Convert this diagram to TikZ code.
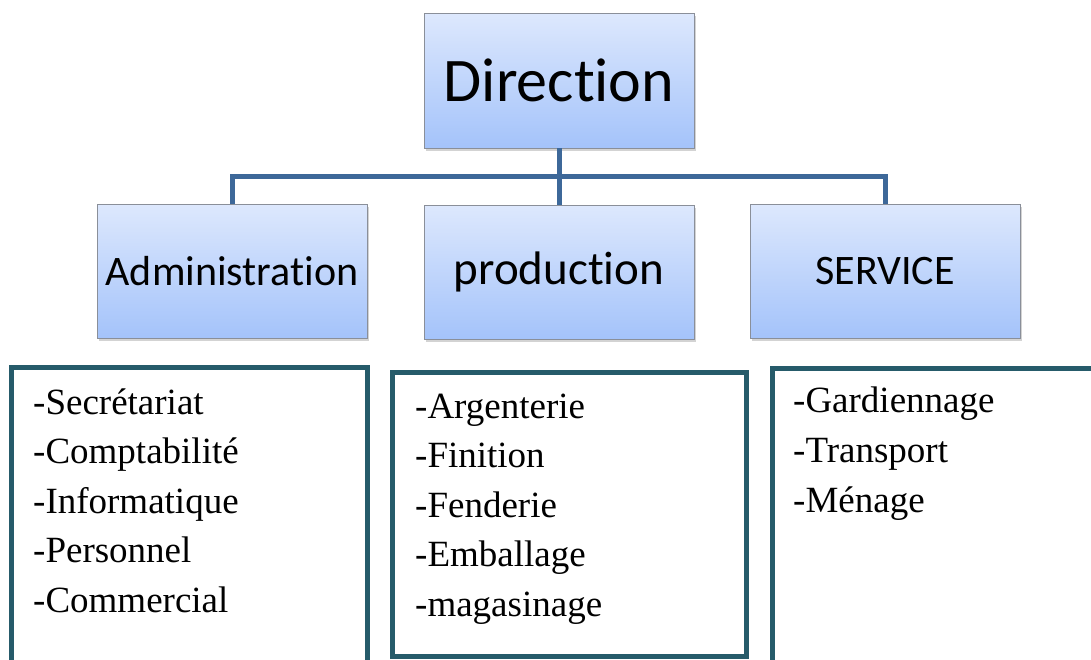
\documentclass[tikz,border=0pt]{standalone}
\usepackage{fontspec}
\setmainfont{Liberation Serif}
\newfontfamily\boxfont[Ligatures=NoCommon]{Carlito}
\usepackage{xcolor}
\usepackage{tikz}
\usetikzlibrary{shadows,calc}
\definecolor{boxtop}{HTML}{DDE8FD}
\definecolor{boxbottom}{HTML}{A4C3FA}
\definecolor{boxedge}{HTML}{8A8F99}
\definecolor{linkblue}{HTML}{3D6899}
\definecolor{listedge}{HTML}{265B6A}
\tikzset{
  unitbox/.style={rectangle,draw=boxedge,line width=0.8pt,top color=boxtop,
    bottom color=boxbottom,minimum width=270pt,minimum height=134pt,
    inner sep=0pt,drop shadow={shadow xshift=1.5pt,shadow yshift=-3pt,opacity=0.35}},
  linkline/.style={draw=linkblue,line width=5pt,line join=miter},
  listbox/.style={rectangle,draw=listedge,line width=5pt,anchor=north west,
    inner sep=0pt,outer sep=0pt},
  itemtext/.style={anchor=base west,inner sep=0pt,font=\fontsize{37}{42}\selectfont}
}

\begin{document}
\begin{tikzpicture}[x=1pt,y=-1pt]
  \useasboundingbox (0,0) rectangle (1091,659);
  \clip (0,0) rectangle (1091,659);
  % top level
  \node[unitbox,minimum height=135pt,font=\boxfont\fontsize{62}{70}\selectfont]
    (dir) at (559,80.5) {Direction};
  % departments
  \node[unitbox,font=\boxfont\fontsize{42}{48}\selectfont] (adm) at (232,271) {Administration};
  \node[unitbox,font=\boxfont\fontsize{47}{52}\selectfont] (prod) at (559,272) {production};
  \node[unitbox,font=\boxfont\fontsize{42}{48}\selectfont] (srv) at (885,271) {SERVICE};
  % links
  \coordinate (bus) at (559,176);
  \draw[linkline] (dir.south) -- (bus);
  \draw[linkline] (bus) -| (adm.north);
  \draw[linkline] (bus) -| (srv.north);
  \draw[linkline] (bus) -- (prod.north);
  % lists
  \node[listbox,minimum width=356pt,minimum height=340pt] (admlist) at (11.5,367.5) {};
  \node[listbox,minimum width=354pt,minimum height=284pt] (prodlist) at (392.5,372.5) {};
  \node[listbox,minimum width=360pt,minimum height=340pt] (srvlist) at (772,368) {};
  \foreach \lbl [count=\i from 0] in {-Secrétariat,-Comptabilité,-Informatique,-Personnel,-Commercial}
    \node[itemtext] (adm\i) at (33,414+49.5*\i) {\lbl};
  \foreach \lbl [count=\i from 0] in {-Argenterie,-Finition,-Fenderie,-Emballage,-magasinage}
    \node[itemtext] (prod\i) at (415,418+49.5*\i) {\lbl};
  \foreach \lbl [count=\i from 0] in {-Gardiennage,-Transport,-Ménage}
    \node[itemtext] (srv\i) at (793,412+50*\i) {\lbl};
\end{tikzpicture}
\end{document}
